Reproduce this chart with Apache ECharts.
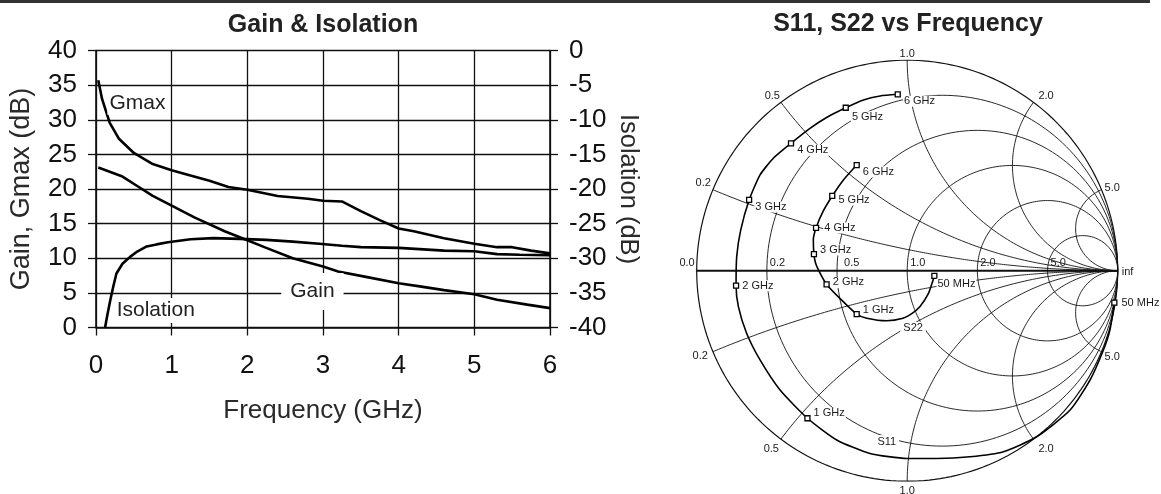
<!DOCTYPE html>
<html>
<head>
<meta charset="utf-8">
<script src="https://cdn.jsdelivr.net/npm/echarts@6/dist/echarts.min.js"></script>
<style>
html,body{margin:0;padding:0;background:#fff;}
#chart{width:1161px;height:494px;}
</style>
</head>
<body>
<div id="chart"></div>
<script>
// ---------- Gain & Isolation data (frequency in GHz) ----------
const freqGmax = [0.03, 0.08, 0.18, 0.3, 0.5, 0.75, 1.0, 1.2, 1.5, 1.75, 2.0, 2.4, 2.8, 3.0, 3.25, 3.5, 3.75, 4.0, 4.2, 4.6, 5.0, 5.3, 5.5, 5.75, 6.0];
const gmax     = [35.7, 33.0, 29.6, 27.3, 25.2, 23.6, 22.7, 22.1, 21.2, 20.3, 19.9, 19.0, 18.6, 18.3, 18.2, 16.8, 15.5, 14.3, 13.9, 12.9, 12.1, 11.6, 11.6, 11.1, 10.7];

const freqGain = [0.03, 0.35, 0.55, 0.75, 1.0, 1.3, 1.7, 2.0, 2.25, 2.6, 3.0, 3.2, 3.55, 4.0, 4.3, 4.6, 5.0, 5.3, 5.7, 6.0];
const gain     = [23.1, 21.8, 20.4, 19.0, 17.6, 15.9, 13.9, 12.6, 11.5, 10.0, 8.8, 8.1, 7.35, 6.4, 5.9, 5.4, 4.8, 4.0, 3.3, 2.8];

const freqIso  = [0.12, 0.15, 0.19, 0.23, 0.27, 0.35, 0.45, 0.55, 0.67, 0.8, 0.95, 1.25, 1.55, 1.9, 2.25, 2.6, 2.95, 3.25, 3.5, 4.0, 4.6, 5.0, 5.3, 5.6, 6.0];
const isolation = [-40, -38.2, -36, -34, -32.2, -30.8, -29.8, -29, -28.3, -28, -27.7, -27.25, -27.1, -27.2, -27.35, -27.6, -27.9, -28.2, -28.4, -28.5, -28.9, -29.0, -29.4, -29.5, -29.55];

// ---------- Smith chart data (reflection coefficient, re / im) ----------
const resistances = [0.2, 0.5, 1.0, 2.0, 5.0];
const reactances  = [0.2, 0.5, 1.0, 2.0, 5.0];

const s11Re = [0.984, 0.963, 0.932, 0.869, 0.774, 0.615, 0.457, 0.298, 0.140, 0.0, -0.177, -0.335, -0.474, -0.604, -0.699, -0.763, -0.802, -0.813, -0.810, -0.791, -0.751, -0.699, -0.636, -0.552, -0.462, -0.383, -0.292, -0.208, -0.129, -0.045];
const s11Im = [-0.152, -0.282, -0.377, -0.519, -0.662, -0.789, -0.860, -0.884, -0.892, -0.892, -0.868, -0.804, -0.701, -0.567, -0.424, -0.297, -0.171, -0.071, 0.067, 0.193, 0.336, 0.455, 0.534, 0.605, 0.676, 0.728, 0.774, 0.811, 0.830, 0.838];

const s22Re = [0.129, 0.118, 0.100, 0.060, 0.020, -0.020, -0.097, -0.192, -0.240, -0.304, -0.383, -0.414, -0.435, -0.443, -0.446, -0.433, -0.398, -0.356, -0.303, -0.240];
const s22Im = [-0.025, -0.060, -0.110, -0.171, -0.205, -0.226, -0.238, -0.226, -0.206, -0.147, -0.065, -0.012, 0.035, 0.079, 0.146, 0.203, 0.285, 0.355, 0.431, 0.502];

const markLabels = ['50 MHz', '1 GHz', '2 GHz', '3 GHz', '4 GHz', '5 GHz', '6 GHz'];
const s11MarkRe = [0.984, -0.474, -0.813, -0.751, -0.552, -0.292, -0.045];
const s11MarkIm = [-0.152, -0.701, -0.071, 0.336, 0.605, 0.774, 0.838];
const s22MarkRe = [0.129, -0.240, -0.383, -0.443, -0.433, -0.356, -0.240];
const s22MarkIm = [-0.025, -0.206, -0.065, 0.079, 0.203, 0.355, 0.502];

// ---------- helpers ----------
const FONT = "'Liberation Sans', Arial, Helvetica, sans-serif";
const zip = (a, b) => a.map((v, i) => [v, b[i]]);

function arc(cx, cy, R, a0, a1, n) {
  const pts = [];
  for (let i = 0; i <= n; i++) {
    const a = a0 + (a1 - a0) * i / n;
    pts.push([cx + R * Math.cos(a), cy + R * Math.sin(a)]);
  }
  return pts;
}

const smithGrid = [];
smithGrid.push({ pts: arc(0, 0, 1, 0, 2 * Math.PI, 240), w: 1.2 });
resistances.forEach(r => {
  smithGrid.push({ pts: arc(r / (1 + r), 0, 1 / (1 + r), 0, 2 * Math.PI, 200), w: 0.9 });
});
reactances.forEach(x => {
  const R = 1 / x;
  let te = Math.atan2((x * x - 1) / (x * x + 1), -2 * x / (x * x + 1));
  if (te > -Math.PI / 2) te -= 2 * Math.PI;
  const up = arc(1, R, R, -Math.PI / 2, te, 200);
  smithGrid.push({ pts: up, w: 0.9 });
  smithGrid.push({ pts: up.map(p => [p[0], -p[1]]), w: 0.9 });
});
smithGrid.push({ pts: [[-1, 0], [1, 0]], w: 2 });

const gridSeries = smithGrid.map(g => ({
  type: 'line', xAxisIndex: 1, yAxisIndex: 2, data: g.pts,
  showSymbol: false, symbol: 'none', silent: true, animation: false, z: 1,
  lineStyle: { color: '#111', width: g.w }
}));

// label placement tweaks (pixels)
const rLabelShift = { '0.5': 4 };
const xLabelShift = {
  '0.2': [[2, -2], [-1, -1]],
  '0.5': [[-1, 4], [-2, 0]],
  '1.0': [[0, 3], [0, 0]],
  '2.0': [[5, 4], [5, 0]],
  '5.0': [[-1, 3], [-1, 0]]
};

const rLabelData = [{ value: [-1, 0], name: '0.0', label: { position: 'left', distance: 2, offset: [0, -8] } }]
  .concat(resistances.map(r => ({ value: [(r - 1) / (r + 1), 0], name: r.toFixed(1), label: { position: 'right', distance: 3, offset: [rLabelShift[r.toFixed(1)] || 0, -8] } })))
  .concat([{ value: [1, 0], name: 'inf', label: { position: 'right', distance: 4, offset: [0, 1] } }]);

const xLabelData = [];
reactances.forEach(x => {
  const ex = (x * x - 1) / (x * x + 1), ey = 2 * x / (x * x + 1);
  const k = x === 1 ? 1.045 : 1.06;
  const s = xLabelShift[x.toFixed(1)];
  xLabelData.push({ value: [ex * k, ey * k], name: x.toFixed(1), label: { offset: s[0] } });
  xLabelData.push({ value: [ex * k, -ey * k], name: x.toFixed(1), label: { offset: s[1] } });
});

const s11Off = [[1, 0], [0, -5], [0, 0], [0, 7], [0, 7], [0, 9], [0, 7]];
const s22Off = [[-3, 8], [0, -4], [0, -2], [0, -4], [2, 0], [0, 4], [0, 7]];

function markData(re, im, off) {
  return re.map((v, i) => ({
    value: [v, im[i]], name: markLabels[i],
    label: { offset: off[i] }
  }));
}

const markSeriesBase = {
  type: 'scatter', xAxisIndex: 1, yAxisIndex: 2, symbol: 'rect', symbolSize: 5,
  itemStyle: { color: '#fff', borderColor: '#000', borderWidth: 1.3, opacity: 1 },
  silent: true, animation: false, z: 5, clip: false,
  label: {
    show: true, position: 'right', distance: 2, formatter: '{b}',
    fontFamily: FONT, fontSize: 11, color: '#1a1a1a', textBorderWidth: 0,
    backgroundColor: '#fff', padding: [0, 1]
  }
};

const textOnly = { symbolSize: 0, silent: true, z: 4, clip: false, itemStyle: { opacity: 1, color: '#000' } };

const chart = echarts.init(document.getElementById('chart'), null, { renderer: 'canvas' });

const option = {
  backgroundColor: '#fff',
  animation: false,
  textStyle: { fontFamily: FONT },
  graphic: [
    { type: 'line', shape: { x1: 0, y1: 1.5, x2: 1150, y2: 1.5 }, style: { stroke: '#333', lineWidth: 3 } },
    { type: 'text', x: 323, y: 25, style: { text: 'Gain & Isolation', font: 'bold 25px ' + FONT, fill: '#222', align: 'center', verticalAlign: 'middle', textAlign: 'center', textVerticalAlign: 'middle' } },
    { type: 'text', x: 908, y: 24, style: { text: 'S11, S22 vs Frequency', font: 'bold 25px ' + FONT, fill: '#222', align: 'center', verticalAlign: 'middle', textAlign: 'center', textVerticalAlign: 'middle' } }
  ],
  grid: [
    { left: 96, top: 50.5, width: 454, height: 277 },
    { left: 696.7, top: 60.2, width: 421, height: 421 }
  ],
  xAxis: [
    {
      gridIndex: 0, type: 'value', min: 0, max: 6, interval: 1,
      axisLine: { show: true, lineStyle: { color: '#111', width: 1.6 } },
      axisTick: { show: true, inside: false, length: 8, lineStyle: { color: '#111', width: 1.3 } },
      splitLine: { show: true, lineStyle: { color: '#111', width: 1.3 } },
      axisLabel: { fontFamily: FONT, fontSize: 26, color: '#111', margin: 25 },
      name: 'Frequency (GHz)', nameLocation: 'middle', nameGap: 70,
      nameTextStyle: { fontFamily: FONT, fontSize: 26, color: '#2a2a2a' }
    },
    { gridIndex: 1, type: 'value', min: -1, max: 1, show: false }
  ],
  yAxis: [
    {
      gridIndex: 0, type: 'value', min: 0, max: 40, interval: 5, position: 'left',
      axisLine: { show: true, lineStyle: { color: '#111', width: 1.6 } },
      axisTick: { show: true, inside: false, length: 8, lineStyle: { color: '#111', width: 1.3 } },
      splitLine: { show: true, lineStyle: { color: '#111', width: 1.3 } },
      axisLabel: { fontFamily: FONT, fontSize: 26, color: '#111', margin: 19 },
      name: 'Gain, Gmax (dB)', nameLocation: 'middle', nameGap: 61, nameRotate: 90,
      nameTextStyle: { fontFamily: FONT, fontSize: 27, color: '#2a2a2a' }
    },
    {
      gridIndex: 0, type: 'value', min: -40, max: 0, interval: 5, position: 'right',
      axisLine: { show: true, lineStyle: { color: '#111', width: 1.6 } },
      axisTick: { show: true, inside: false, length: 8, lineStyle: { color: '#111', width: 1.3 } },
      splitLine: { show: false },
      axisLabel: { fontFamily: FONT, fontSize: 26, color: '#111', margin: 19 },
      name: 'Isolation (dB)', nameLocation: 'middle', nameGap: 65, nameRotate: -90,
      nameTextStyle: { fontFamily: FONT, fontSize: 25.5, color: '#2a2a2a' }
    },
    { gridIndex: 1, type: 'value', min: -1, max: 1, show: false }
  ],
  series: [
    { name: 'Gmax', type: 'line', xAxisIndex: 0, yAxisIndex: 0, data: zip(freqGmax, gmax), showSymbol: false, symbol: 'none', z: 3, lineStyle: { color: '#000', width: 2.6 } },
    { name: 'Gain', type: 'line', xAxisIndex: 0, yAxisIndex: 0, data: zip(freqGain, gain), showSymbol: false, symbol: 'none', z: 3, lineStyle: { color: '#000', width: 2.6 } },
    { name: 'Isolation', type: 'line', xAxisIndex: 0, yAxisIndex: 1, data: zip(freqIso, isolation), showSymbol: false, symbol: 'none', z: 3, lineStyle: { color: '#000', width: 2.6 } },
    Object.assign({ type: 'scatter', xAxisIndex: 0, yAxisIndex: 0 }, textOnly, {
      label: { show: true, position: 'inside', formatter: '{b}', fontFamily: FONT, fontSize: 21, color: '#222', textBorderWidth: 0, backgroundColor: '#fff' },
      data: [
        { name: 'Gmax', value: [0.547, 32.4], label: { padding: [1, 2] } },
        { name: 'Gain', value: [2.86, 5.2], label: { padding: [8, 9] } },
        { name: 'Isolation', value: [0.79, 2.45], label: { padding: [2, 3] } }
      ]
    }),
    ...gridSeries,
    { name: 'S11', type: 'line', xAxisIndex: 1, yAxisIndex: 2, data: zip(s11Re, s11Im), showSymbol: false, symbol: 'none', smooth: 0.2, z: 3, lineStyle: { color: '#000', width: 1.6 } },
    { name: 'S22', type: 'line', xAxisIndex: 1, yAxisIndex: 2, data: zip(s22Re, s22Im), showSymbol: false, symbol: 'none', smooth: 0.2, z: 3, lineStyle: { color: '#000', width: 1.6 } },
    Object.assign({}, markSeriesBase, { data: markData(s11MarkRe, s11MarkIm, s11Off) }),
    Object.assign({}, markSeriesBase, { data: markData(s22MarkRe, s22MarkIm, s22Off) }),
    Object.assign({ type: 'scatter', xAxisIndex: 1, yAxisIndex: 2 }, textOnly, {
      label: { show: true, formatter: '{b}', fontFamily: FONT, fontSize: 11, color: '#1a1a1a', textBorderWidth: 0 },
      data: rLabelData
    }),
    Object.assign({ type: 'scatter', xAxisIndex: 1, yAxisIndex: 2 }, textOnly, {
      label: { show: true, position: 'inside', formatter: '{b}', fontFamily: FONT, fontSize: 11, color: '#1a1a1a', textBorderWidth: 0 },
      data: xLabelData
    }),
    Object.assign({ type: 'scatter', xAxisIndex: 1, yAxisIndex: 2 }, textOnly, {
      label: { show: true, position: 'inside', formatter: '{b}', fontFamily: FONT, fontSize: 11, color: '#1a1a1a', textBorderWidth: 0, backgroundColor: '#fff', padding: [1, 3] },
      data: [
        { name: 'S11', value: [-0.097, -0.812] },
        { name: 'S22', value: [0.028, -0.274] }
      ]
    })
  ]
};

chart.setOption(option);
</script>
</body>
</html>
